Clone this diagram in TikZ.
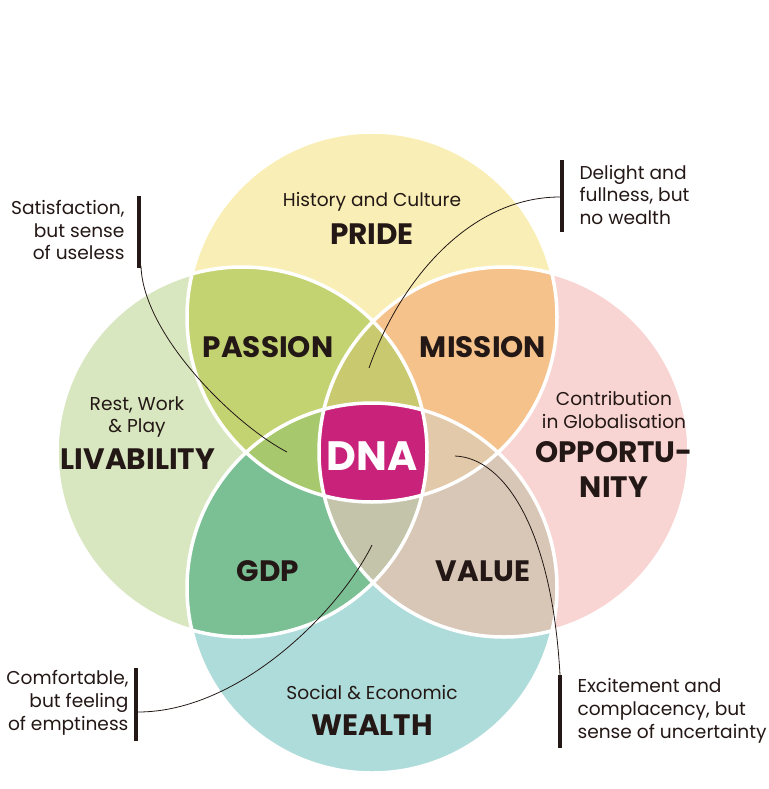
\documentclass[tikz,border=0pt]{standalone}
\usepackage{fontspec}
\setmainfont{Poppins}
\definecolor{ink}{HTML}{231815}
\definecolor{cTop}{HTML}{F9EFB6}
\definecolor{cLeft}{HTML}{D9E7C1}
\definecolor{cRight}{HTML}{F8D5D3}
\definecolor{cBot}{HTML}{AEDCDA}
\definecolor{cPassion}{HTML}{C4D372}
\definecolor{cMission}{HTML}{F6C28B}
\definecolor{cGDP}{HTML}{7BBF95}
\definecolor{cValue}{HTML}{D8C7B6}
\definecolor{cTLR}{HTML}{C9CA70}
\definecolor{cTLB}{HTML}{A8C86D}
\definecolor{cTRB}{HTML}{E2C9A9}
\definecolor{cLRB}{HTML}{C3C4AA}
\definecolor{cDNA}{HTML}{C9227A}
\begin{document}
\begin{tikzpicture}[x=1pt,y=-1pt,
  small/.style={text=ink,font=\fontsize{18.6}{22.8}\selectfont},
  big/.style={text=ink,font=\fontsize{29.5}{35}\selectfont\bfseries},
  bar/.style={draw=ink,line width=4.5pt},
  link/.style={draw=ink,line width=0.8pt},
  rim/.style={draw=white,line width=3.5pt}]
\def\R{185pt}
\useasboundingbox (0,0) rectangle (768,789);
\coordinate (T) at (372,317);
\coordinate (L) at (242,452);
\coordinate (Rt) at (504,452);
\coordinate (B) at (372,588);
% single circles
\fill[cTop] (T) circle[radius=\R];
\fill[cLeft] (L) circle[radius=\R];
\fill[cRight] (Rt) circle[radius=\R];
\fill[cBot] (B) circle[radius=\R];
% pairs
\begin{scope}\clip (T) circle[radius=\R]; \fill[cPassion] (L) circle[radius=\R];\end{scope}
\begin{scope}\clip (T) circle[radius=\R]; \fill[cMission] (Rt) circle[radius=\R];\end{scope}
\begin{scope}\clip (L) circle[radius=\R]; \fill[cGDP] (B) circle[radius=\R];\end{scope}
\begin{scope}\clip (Rt) circle[radius=\R]; \fill[cValue] (B) circle[radius=\R];\end{scope}
% triples
\begin{scope}\clip (T) circle[radius=\R]; \clip (L) circle[radius=\R]; \fill[cTLR] (Rt) circle[radius=\R];\end{scope}
\begin{scope}\clip (T) circle[radius=\R]; \clip (L) circle[radius=\R]; \fill[cTLB] (B) circle[radius=\R];\end{scope}
\begin{scope}\clip (T) circle[radius=\R]; \clip (Rt) circle[radius=\R]; \fill[cTRB] (B) circle[radius=\R];\end{scope}
\begin{scope}\clip (L) circle[radius=\R]; \clip (Rt) circle[radius=\R]; \fill[cLRB] (B) circle[radius=\R];\end{scope}
% all four
\begin{scope}\clip (T) circle[radius=\R]; \clip (L) circle[radius=\R]; \clip (Rt) circle[radius=\R]; \fill[cDNA] (B) circle[radius=\R];\end{scope}
% white rims
\draw[rim] (T) circle[radius=\R];
\draw[rim] (L) circle[radius=\R];
\draw[rim] (Rt) circle[radius=\R];
\draw[rim] (B) circle[radius=\R];
% labels
\node[small] (hist) at (372,202) {History and Culture};
\node[big] (pride) at (372,234) {PRIDE};
\node[big] (passion) at (268,347) {PASSION};
\node[big] (mission) at (483,347) {MISSION};
\node[small,align=center] (rest) at (137,417) {Rest, Work\\\& Play};
\node[big] (liv) at (138,459) {LIVABILITY};
\node[font=\fontsize{41}{46}\selectfont\bfseries,text=white] (dna) at (372,456) {DNA};
\node[small,align=center] (contrib) at (614,410) {Contribution\\in Globalisation};
\node[big,align=center] (opp) at (614,469) {OPPORTU-\\NITY};
\node[big] (gdp) at (268,571) {GDP};
\node[big] (value) at (483,571) {VALUE};
\node[small] (soc) at (372,693) {Social \& Economic};
\node[big] (wealth) at (372,725) {WEALTH};
% callouts
\coordinate (b1t) at (139,196); \coordinate (b1b) at (139,268);
\coordinate (b2t) at (562,160); \coordinate (b2b) at (562,232);
\coordinate (b3t) at (136,668); \coordinate (b3b) at (136,741);
\coordinate (b4t) at (560,675); \coordinate (b4b) at (560,748);
\draw[bar] (b1t) -- (b1b);
\draw[bar] (b2t) -- (b2b);
\draw[bar] (b3t) -- (b3b);
\draw[bar] (b4t) -- (b4b);
\node[small,anchor=east,align=right] (t1) at (128,230) {Satisfaction,\\but sense\\of useless};
\node[small,anchor=west,align=left] (t2) at (576,195) {Delight and\\fullness, but\\no wealth};
\node[small,anchor=east,align=right] (t3) at (132,703) {Comfortable,\\but feeling\\of emptiness};
\node[small,anchor=west,align=left] (t4) at (574,711) {Excitement and\\complacency, but\\sense of uncertainty};
\coordinate (s1) at (141,266); \coordinate (e1) at (287,452);
\coordinate (s2) at (560,197); \coordinate (e2) at (369,368);
\coordinate (s3) at (138,712); \coordinate (e3) at (372,545);
\coordinate (s4) at (560,675); \coordinate (e4) at (455,456);
\draw[link] (s1) .. controls (143,335) and (235,425) .. (e1);
\draw[link] (s2) .. controls (470,197) and (400,280) .. (e2);
\draw[link] (s3) .. controls (240,712) and (340,610) .. (e3);
\draw[link] (e4) .. controls (505,458) and (552,530) .. (s4);
\end{tikzpicture}
\end{document}
